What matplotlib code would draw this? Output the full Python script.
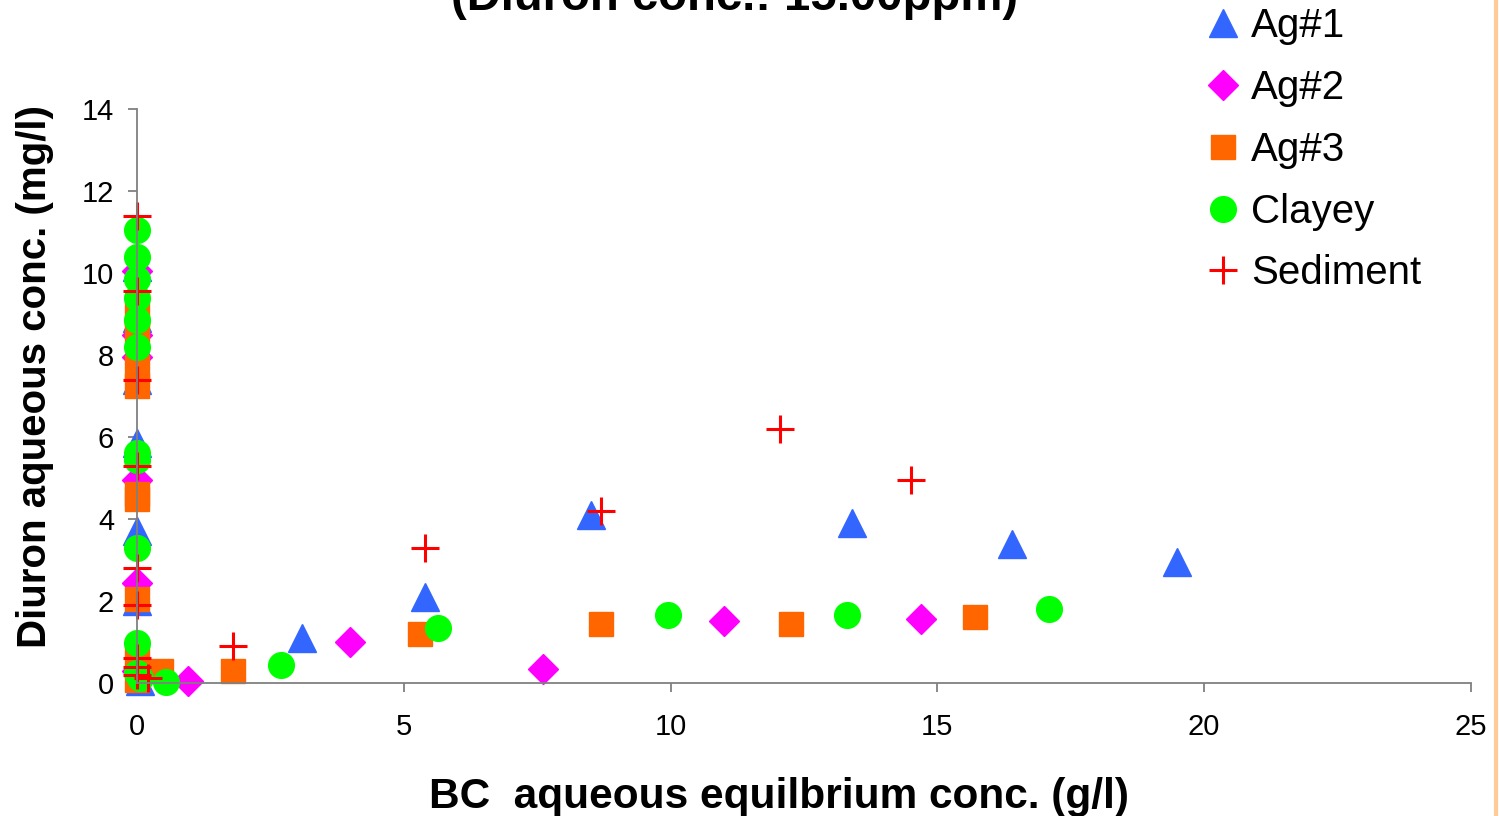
import matplotlib
matplotlib.use("Agg")
import matplotlib.pyplot as plt
from matplotlib.lines import Line2D

plt.rcParams['font.family'] = ['Liberation Sans', 'DejaVu Sans']

# Ag#1
ag1_x = [0, 0, 0, 0, 0, 0, 0.05, 3.1, 5.4, 8.5, 13.4, 16.4, 19.5]
ag1_y = [10.15, 8.9, 7.4, 5.85, 3.7, 2.0, 0.05, 1.1, 2.1, 4.1, 3.9, 3.4, 2.95]
# Ag#2
ag2_x = [0, 0, 0, 0, 0, 0, 0.95, 4.0, 7.6, 11.0, 14.7]
ag2_y = [10.05, 8.5, 7.95, 4.95, 2.45, 0.3, 0.05, 1.0, 0.35, 1.5, 1.55]
# Ag#3
ag3_x = [0, 0, 0, 0, 0, 0, 0, 0, 0, 0.45, 1.8, 5.3, 8.7, 12.25, 15.7]
ag3_y = [9.0, 8.6, 7.7, 7.25, 4.6, 4.5, 2.05, 0.6, 0.07, 0.3, 0.3, 1.2, 1.45, 1.45, 1.6]
# Clayey
clay_x = [0, 0, 0, 0, 0, 0, 0, 0, 0, 0, 0, 0.05, 0.55, 2.7, 5.65, 9.95, 13.3, 17.1]
clay_y = [11.05, 10.4, 9.85, 9.4, 8.85, 8.2, 5.6, 5.45, 3.3, 0.98, 0.25, 0.12, 0.02, 0.45, 1.35, 1.65, 1.65, 1.8]
# Sediment
sed_x = [0, 0, 0, 0, 0, 0, 0, 0, 0, 0.2, 1.8, 5.4, 8.7, 12.05, 14.5]
sed_y = [11.4, 9.55, 7.4, 5.3, 2.8, 1.9, 0.6, 0.4, 0.2, 0.12, 0.9, 3.3, 4.2, 6.2, 4.95]

x_ticks = [0, 5, 10, 15, 20, 25]
y_ticks = [0, 2, 4, 6, 8, 10, 12, 14]

fig = plt.figure(figsize=(14.99, 8.16), dpi=100)
ax = fig.add_axes([0.0914, 0.163, 0.8899, 0.7034])

ax.plot(ag1_x, ag1_y, ls='none', marker='^', ms=20, color='#3366FF', mec='#3366FF', clip_on=False, label='Ag#1')
ax.plot(ag2_x, ag2_y, ls='none', marker='D', ms=15, color='#FF00FF', mec='#FF00FF', clip_on=False, label='Ag#2')
ax.plot(ag3_x, ag3_y, ls='none', marker='s', ms=17, color='#FF6600', mec='#FF6600', clip_on=False, label='Ag#3')
ax.plot(clay_x, clay_y, ls='none', marker='o', ms=18.5, color='#00FF00', mec='#00FF00', clip_on=False, label='Clayey')
ax.plot(sed_x, sed_y, ls='none', marker='+', ms=20, mew=2.2, color='#FF0000', clip_on=False, label='Sediment')

ax.set_xlim(0, 25)
ax.set_ylim(0, 14)
ax.set_xticks(x_ticks)
ax.set_yticks(y_ticks)
ax.tick_params(labelsize=21, colors='#808080', labelcolor='black', length=6.5, width=1.3)
ax.tick_params(axis='x', pad=15)
ax.tick_params(axis='y', pad=10)
for s in ['top', 'right']:
    ax.spines[s].set_visible(False)
for s in ['left', 'bottom']:
    ax.spines[s].set_color('#808080')
    ax.spines[s].set_linewidth(1.3)

ax.set_xlabel('BC  aqueous equilbrium conc. (g/l)', fontsize=30.5, fontweight='bold', labelpad=26, x=0.481)
ax.set_ylabel('Diuron aqueous conc. (mg/l)', fontsize=29, fontweight='bold', labelpad=20, y=0.534)

fig.text(0.49, 0.988, '(Diuron conc.: 15.00ppm)', fontsize=34, fontweight='bold',
         ha='center', va='baseline')

fig.legend(loc='upper left', bbox_to_anchor=(0.8025, 0.991), frameon=False, fontsize=29,
           borderpad=0, borderaxespad=0, handletextpad=0.2, labelspacing=0.59,
           handlelength=1.0, markerscale=1.0)

fig.add_artist(Line2D([0.998, 0.998], [0, 1], color='#FFCC99', lw=3, transform=fig.transFigure))

fig.savefig('out.png', dpi=100)
